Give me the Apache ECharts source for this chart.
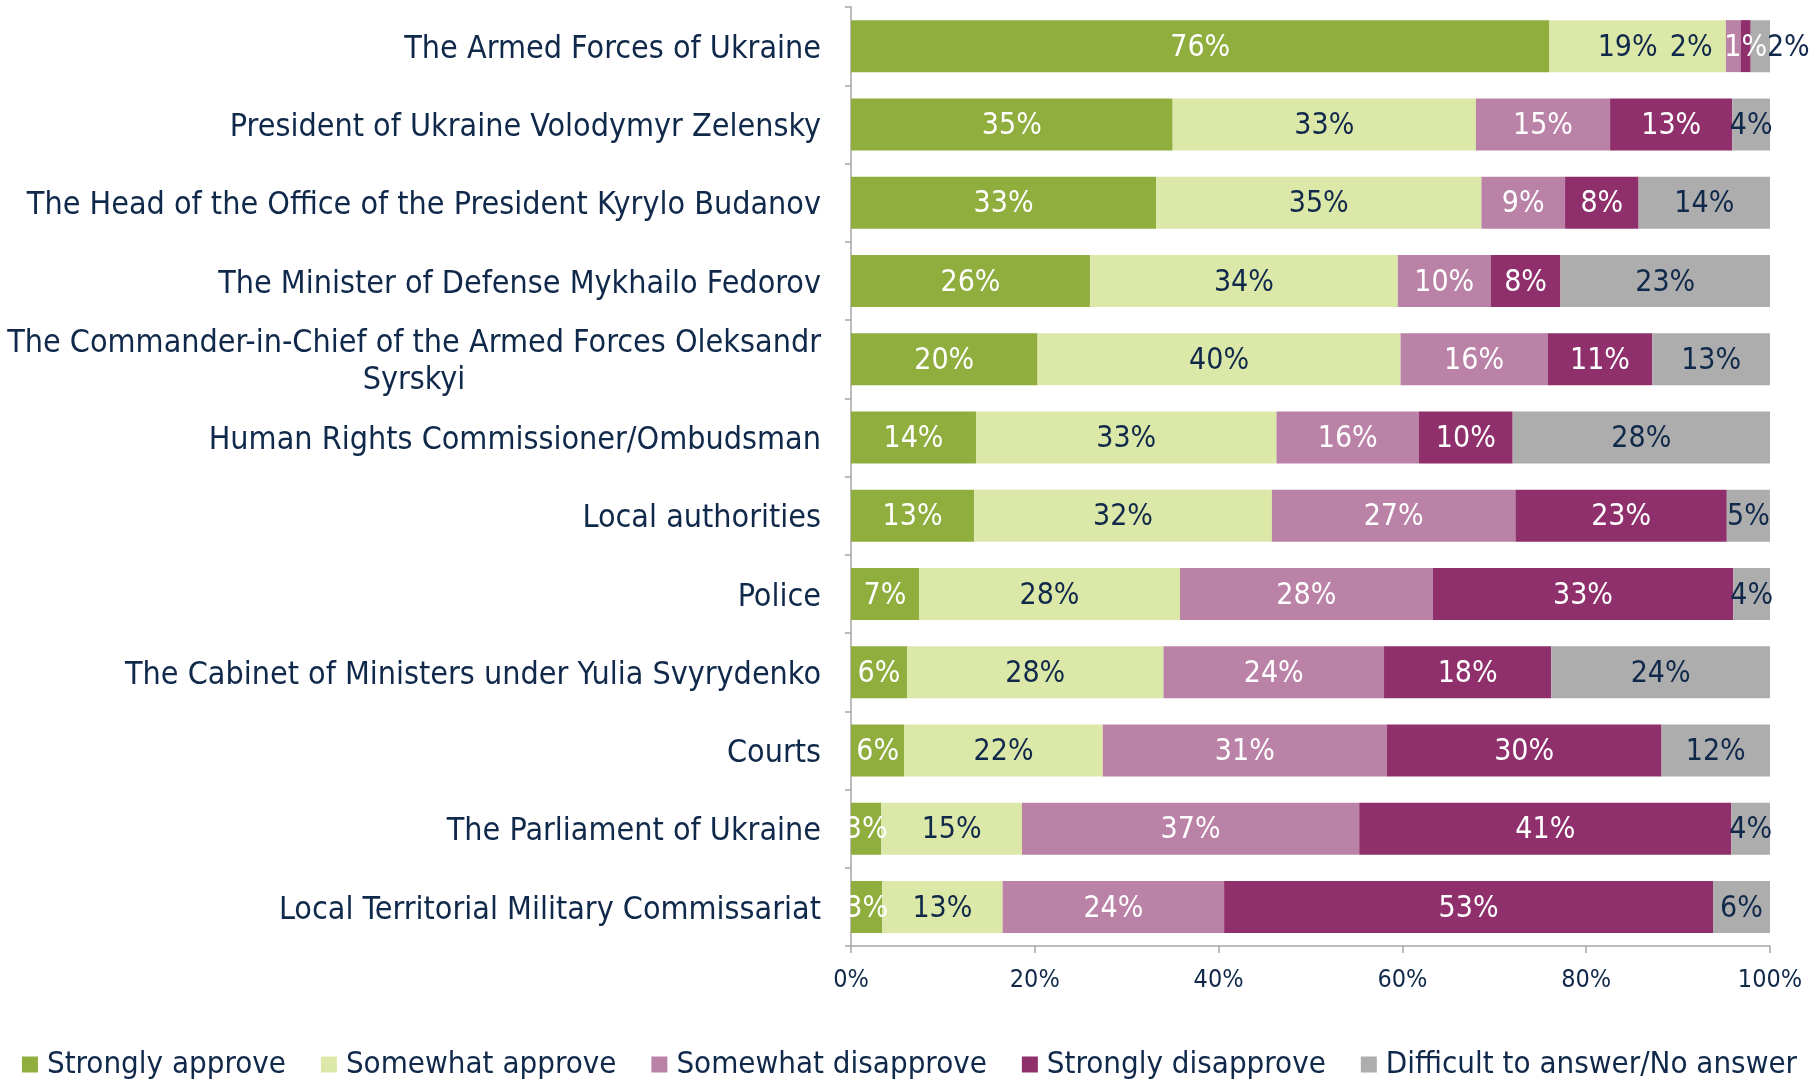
<!DOCTYPE html>
<html>
<head>
<meta charset="utf-8">
<script src="https://cdn.jsdelivr.net/npm/echarts@6/dist/echarts.min.js"></script>
<style>
html,body{margin:0;padding:0;background:#fff;}
#chart{width:1819px;height:1081px;}
</style>
</head>
<body>
<div id="chart"></div>
<script>
const categories = [
  "The Armed Forces of Ukraine",
  "President of Ukraine Volodymyr Zelensky",
  "The Head of the Office of the President Kyrylo Budanov",
  "The Minister of Defense Mykhailo Fedorov",
  "The Commander-in-Chief of the Armed Forces Oleksandr\nSyrskyi",
  "Human Rights Commissioner/Ombudsman",
  "Local authorities",
  "Police",
  "The Cabinet of Ministers under Yulia Svyrydenko",
  "Courts",
  "The Parliament of Ukraine",
  "Local Territorial Military Commissariat"
];
const seriesNames = ["Strongly approve", "Somewhat approve", "Somewhat disapprove", "Strongly disapprove", "Difficult to answer/No answer"];
const stronglyApprove    = [76.0, 35.0, 33.2, 26.0, 20.3, 13.6, 13.4, 7.4, 6.1, 5.8, 3.3, 3.4];
const somewhatApprove    = [19.2, 33.0, 35.4, 33.5, 39.5, 32.7, 32.4, 28.4, 27.9, 21.6, 15.3, 13.1];
const somewhatDisapprove = [1.6, 14.6, 9.1, 10.1, 16.0, 15.5, 26.5, 27.5, 24.0, 30.9, 36.7, 24.1];
const stronglyDisapprove = [1.1, 13.3, 8.0, 7.6, 11.4, 10.2, 23.0, 32.7, 18.2, 29.9, 40.5, 53.2];
const difficult          = [2.1, 4.1, 14.3, 22.8, 12.8, 28.0, 4.7, 4.0, 23.8, 11.8, 4.2, 6.2];
const xTicks = [0, 20, 40, 60, 80, 100];

const colors = ["#8fae3e", "#dce8a8", "#bb82a7", "#8f306d", "#adadad"];
const labelColors = ["#ffffff", "#10294b", "#ffffff", "#ffffff", "#10294b"];
const NAVY = "#10294b";
const FONT = "'DejaVu Sans Condensed', 'Liberation Sans Narrow', 'DejaVu Sans', sans-serif";
const CAT_FS = 32;

// measure width of first line of multi-line category label for centering second line
const cv = document.createElement('canvas').getContext('2d');
cv.font = CAT_FS + "px " + FONT;

const allData = [stronglyApprove, somewhatApprove, somewhatDisapprove, stronglyDisapprove, difficult];

// label tweaks for the tiny segments in the first row
const labelTweaks = {
  "1-0": {offset: [-10, 2]},
  "2-0": {offset: [-42, 2], color: NAVY},
  "4-0": {offset: [28, 2]}
};

const series = allData.map((arr, si) => ({
  name: seriesNames[si],
  type: 'bar',
  stack: 'total',
  barWidth: 52,
  itemStyle: {color: colors[si]},
  label: {
    show: true,
    position: 'inside',
    offset: [0, 2],
    color: labelColors[si],
    fontFamily: FONT,
    fontSize: 30,
    formatter: p => Math.round(p.value) + '%'
  },
  data: arr.map((v, i) => {
    const t = labelTweaks[si + "-" + i];
    if (t) return {value: v, label: Object.assign({}, t)};
    return v;
  })
}));

const chart = echarts.init(document.getElementById('chart'), null, {renderer: 'canvas'});
chart.setOption({
  animation: false,
  backgroundColor: '#ffffff',
  grid: {left: 851, right: 49, top: 7, bottom: 135, containLabel: false},
  legend: {
    data: seriesNames,
    top: 1044,
    left: 'center',
    icon: 'rect',
    itemWidth: 16,
    itemHeight: 16,
    itemGap: 35,
    textStyle: {fontFamily: FONT, fontSize: 31, color: NAVY, padding: [0, 0, 0, 4]}
  },
  xAxis: {
    type: 'value',
    min: 0, max: 100, interval: 20,
    axisLine: {show: true, lineStyle: {color: '#a6a6a6', width: 1.5}},
    axisTick: {show: true, length: 7, lineStyle: {color: '#a6a6a6', width: 1.5}},
    splitLine: {show: false},
    axisLabel: {
      fontFamily: FONT, fontSize: 25, color: NAVY, margin: 22,
      formatter: v => xTicks.includes(v) ? v + '%' : ''
    }
  },
  yAxis: {
    type: 'category',
    inverse: true,
    data: categories,
    axisLine: {show: true, lineStyle: {color: '#a6a6a6', width: 1.5}},
    axisTick: {show: true, length: 6, lineStyle: {color: '#a6a6a6', width: 1.5}},
    axisLabel: {
      fontFamily: FONT, fontSize: CAT_FS, color: NAVY, margin: 30,
      lineHeight: 37,
      padding: [7, 0, 0, 0],
      formatter: v => {
        if (v.indexOf('\n') >= 0) {
          const parts = v.split('\n');
          return '{a|' + parts[0] + '}\n{b|' + parts[1] + '}';
        }
        return v;
      },
      rich: {
        a: {fontFamily: FONT, fontSize: CAT_FS, color: NAVY, lineHeight: 37},
        b: {fontFamily: FONT, fontSize: CAT_FS, color: NAVY, lineHeight: 37, align: 'center',
            width: Math.ceil(cv.measureText(categories[4].split('\n')[0]).width)}
      }
    }
  },
  series: series
});
</script>
</body>
</html>
